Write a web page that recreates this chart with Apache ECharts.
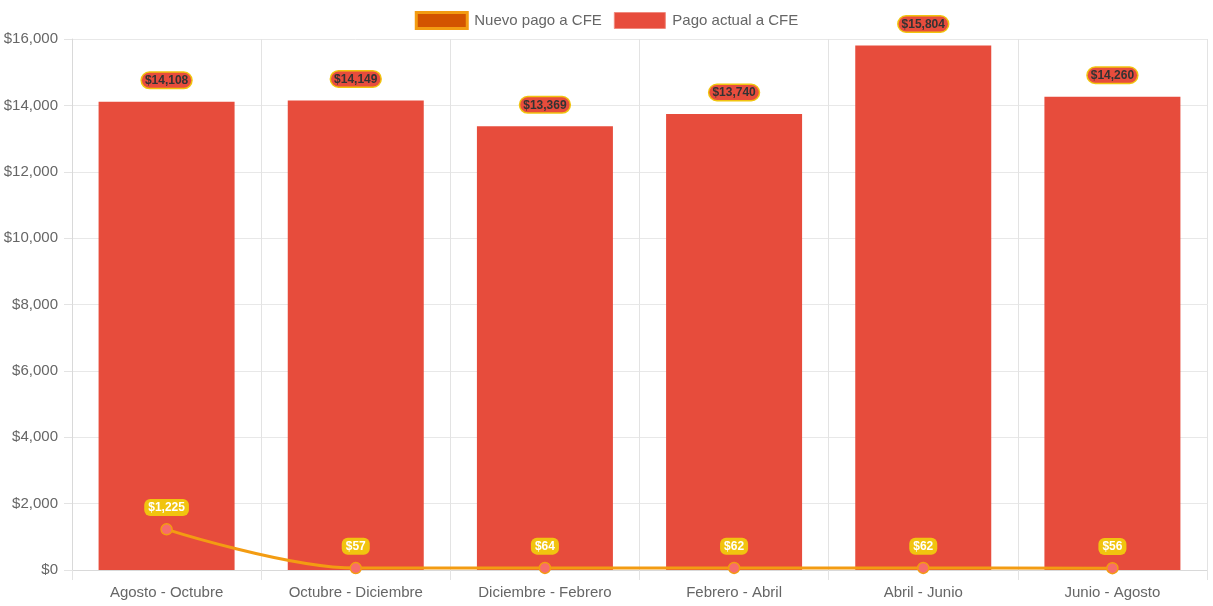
<!DOCTYPE html>
<html>
<head>
<meta charset="utf-8">
<script src="https://cdn.jsdelivr.net/npm/echarts@6/dist/echarts.min.js"></script>
<style>html,body{margin:0;padding:0;background:#fff}#c{width:1213px;height:606px}</style>
</head>
<body>
<div id="c"></div>
<script>
const categories = ['Agosto - Octubre','Octubre - Diciembre','Diciembre - Febrero','Febrero - Abril','Abril - Junio','Junio - Agosto'];
const nuevoPago = [1225, 57, 64, 62, 62, 56];
const pagoActual = [14108, 14149, 13369, 13740, 15804, 14260];
const fmt = v => '$' + Number(v).toLocaleString('en-US');
const chart = echarts.init(document.getElementById('c'));
const FONT = '"Liberation Sans", Arial, Helvetica, sans-serif';
chart.setOption({
  animation: false,
  textStyle: { fontFamily: FONT },
  legend: {
    top: 6, left: 'center', itemWidth: 51, itemHeight: 16, itemGap: 12,
    textStyle: { color: '#666', fontSize: 15, fontFamily: FONT, padding: [0, 0, 0, 2] },
    data: [
      { name: 'Nuevo pago a CFE', icon: 'rect', itemStyle: { color: '#d35400', borderColor: '#f39c12', borderWidth: 3 } },
      { name: 'Pago actual a CFE', icon: 'rect', itemStyle: { color: '#e74c3c', borderColor: '#f08a7e', borderWidth: 1 } }
    ]
  },
  grid: { left: 72, right: 6, top: 39, bottom: 36, containLabel: false },
  xAxis: {
    type: 'category', data: categories, boundaryGap: true,
    axisLine: { show: true, lineStyle: { color: '#d9d9d9' } },
    axisTick: { show: true, length: 10, lineStyle: { color: '#e3e3e3' } },
    splitLine: { show: true, lineStyle: { color: '#e3e3e3' } },
    axisLabel: { color: '#666', fontSize: 15, margin: 15, fontFamily: FONT }
  },
  yAxis: {
    type: 'value', min: 0, max: 16000, interval: 2000,
    axisLine: { show: true, lineStyle: { color: '#d9d9d9' } },
    axisTick: { show: true, length: 8, lineStyle: { color: '#e3e3e3' } },
    splitLine: { show: true, lineStyle: { color: '#e8e8e8' } },
    axisLabel: { color: '#666', fontSize: 15, margin: 14, formatter: v => fmt(v), fontFamily: FONT }
  },
  series: [
    {
      name: 'Pago actual a CFE', type: 'bar', data: pagoActual, barWidth: 136, z: 2,
      itemStyle: { color: '#e74c3c' },
      label: {
        show: true, position: 'top', distance: 14, formatter: p => fmt(p.value),
        backgroundColor: '#e74c3c', borderColor: '#f1c40f', borderWidth: 1.5, borderRadius: 8,
        padding: [2, 3, 1, 3], color: '#333', fontWeight: 'bold', fontSize: 12, fontFamily: FONT
      }
    },
    {
      name: 'Nuevo pago a CFE', type: 'line', data: nuevoPago, smooth: 0.35, z: 5,
      symbol: 'circle', symbolSize: 11,
      lineStyle: { color: '#f39c12', width: 3 },
      itemStyle: { color: '#f76c6c', borderColor: '#f39c12', borderWidth: 1.5 },
      label: {
        show: true, position: 'top', distance: 7, formatter: p => fmt(p.value),
        backgroundColor: '#f1c40f', borderRadius: 6, padding: [3, 4, 2, 4],
        color: '#fff', fontWeight: 'bold', fontSize: 12, fontFamily: FONT
      }
    }
  ]
});
</script>
</body>
</html>
